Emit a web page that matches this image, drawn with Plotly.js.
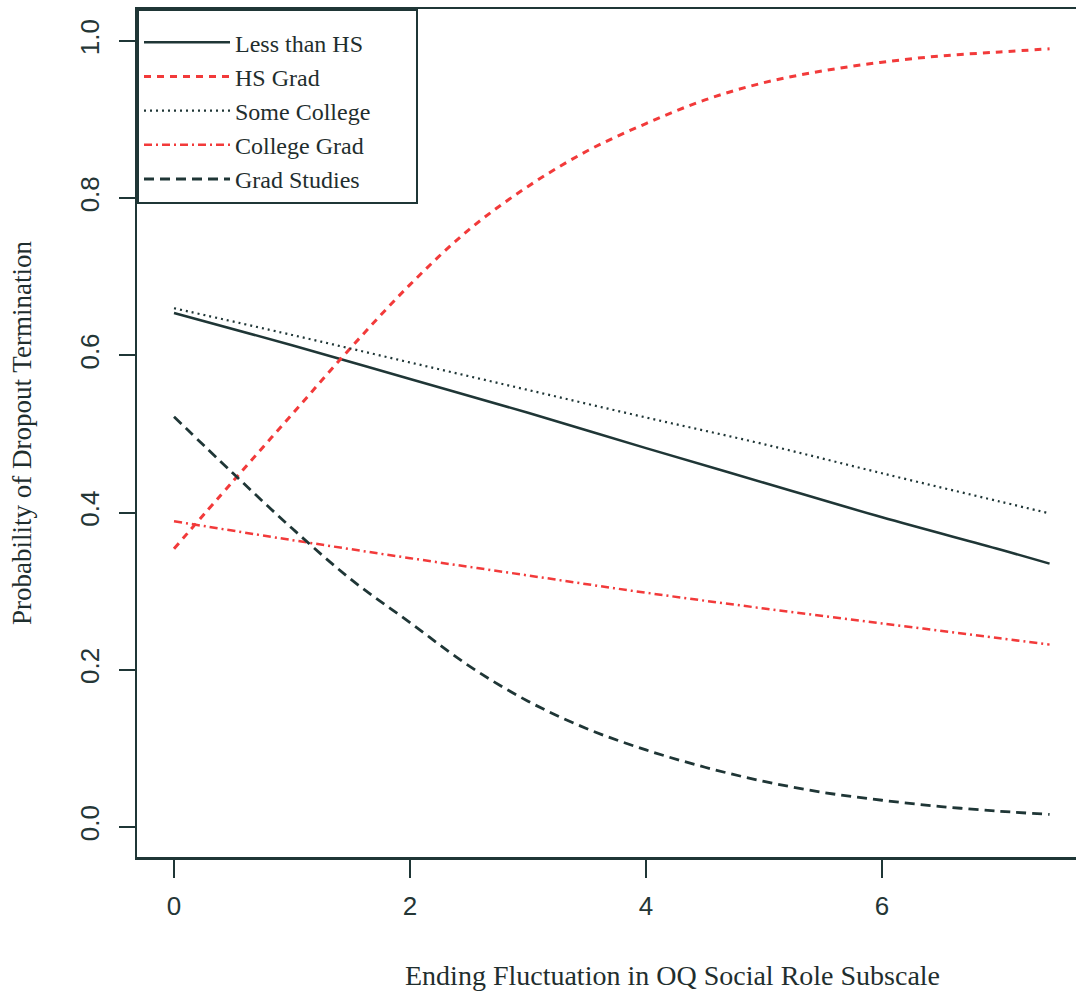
<!DOCTYPE html>
<html>
<head>
<meta charset="utf-8">
<script src="https://cdn.plot.ly/plotly-3.0.1.min.js"></script>
<style>html,body{margin:0;padding:0;background:#fff;}#chart{width:1076px;height:991px;}</style>
</head>
<body>
<div id="chart"></div>
<script>
// Data
const xLessHS = [0, 1, 2, 3, 4, 5, 6, 7, 7.42];
const yLessHS = [0.654, 0.613, 0.570, 0.527, 0.482, 0.438, 0.394, 0.353, 0.335];

const xHSGrad = [0, 0.5, 1, 1.5, 2, 2.5, 3, 3.5, 4, 4.5, 5, 5.5, 6, 6.5, 7, 7.42];
const yHSGrad = [0.354, 0.44, 0.525, 0.61, 0.69, 0.76, 0.815, 0.86, 0.895, 0.925, 0.947, 0.962, 0.973, 0.981, 0.986, 0.990];

const xSomeCollege = [0, 1, 2, 3, 4, 5, 6, 7, 7.42];
const ySomeCollege = [0.660, 0.626, 0.591, 0.556, 0.521, 0.487, 0.450, 0.414, 0.399];

const xCollegeGrad = [0, 1, 2, 3, 4, 5, 6, 7, 7.42];
const yCollegeGrad = [0.389, 0.365, 0.342, 0.320, 0.298, 0.278, 0.259, 0.240, 0.232];

const xGradStudies = [0, 0.5, 1, 1.5, 2, 2.5, 3, 3.5, 4, 4.5, 5, 5.5, 6, 6.5, 7, 7.42];
const yGradStudies = [0.522, 0.45, 0.38, 0.315, 0.26, 0.205, 0.16, 0.125, 0.098, 0.076, 0.058, 0.044, 0.034, 0.026, 0.020, 0.016];

const seriesNames = ["Less than HS", "HS Grad", "Some College", "College Grad", "Grad Studies"];
const xTicks = [0, 2, 4, 6];
const xTickLabels = ["0", "2", "4", "6"];
const yTicks = [0, 0.2, 0.4, 0.6, 0.8, 1.0];
const yTickLabels = ["0.0", "0.2", "0.4", "0.6", "0.8", "1.0"];

const DARK = "#1f3636";
const RED = "#f23a3a";
const SERIF = "Liberation Serif, Times New Roman, serif";
const SANS = "Liberation Sans, Arial, sans-serif";

const traces = [
  {x: xLessHS, y: yLessHS, name: seriesNames[0], line: {color: DARK, width: 2.5, dash: "solid", shape: "spline"}},
  {x: xHSGrad, y: yHSGrad, name: seriesNames[1], line: {color: RED, width: 3, dash: "7px,6px", shape: "spline"}},
  {x: xSomeCollege, y: ySomeCollege, name: seriesNames[2], line: {color: DARK, width: 2.2, dash: "2px,4px", shape: "spline"}},
  {x: xCollegeGrad, y: yCollegeGrad, name: seriesNames[3], line: {color: RED, width: 2.5, dash: "8px,4px,2px,4px", shape: "spline"}},
  {x: xGradStudies, y: yGradStudies, name: seriesNames[4], line: {color: DARK, width: 2.8, dash: "10px,6px", shape: "spline"}}
].map(t => Object.assign({type: "scatter", mode: "lines", hoverinfo: "skip"}, t));

// blank legend title used only as padding (top space and box width)
const legendPad = "&nbsp;".repeat(156);

const layout = {
  width: 1076,
  height: 991,
  margin: {l: 137, r: 0, t: 9, b: 134, pad: 0},
  paper_bgcolor: "#ffffff",
  plot_bgcolor: "#ffffff",
  showlegend: true,
  legend: {
    x: 0, y: 1, xanchor: "left", yanchor: "top",
    bgcolor: "#ffffff",
    bordercolor: DARK,
    borderwidth: 2,
    font: {family: SERIF, size: 24, color: "#1f2e2e"},
    title: {text: legendPad, font: {family: SERIF, size: 7}},
    itemwidth: 86,
    tracegroupgap: 0
  },
  xaxis: {
    range: [-0.3136, 7.644],
    tickmode: "array",
    tickvals: xTicks,
    ticktext: xTickLabels,
    ticks: "outside",
    ticklen: 18,
    tickwidth: 2,
    tickcolor: DARK,
    showline: true,
    linecolor: DARK,
    linewidth: 2.5,
    mirror: true,
    showgrid: false,
    zeroline: false,
    tickfont: {family: SANS, size: 26, color: "#243636"},
    ticklabelstandoff: 6
  },
  yaxis: {
    range: [-0.0382, 1.0407],
    tickmode: "array",
    tickvals: yTicks,
    ticktext: yTickLabels,
    ticks: "outside",
    ticklen: 16,
    tickwidth: 2,
    tickcolor: DARK,
    showline: true,
    linecolor: DARK,
    linewidth: 2.5,
    mirror: false,
    showgrid: false,
    zeroline: false,
    tickangle: -90,
    ticklabelstandoff: 9,
    tickfont: {family: SANS, size: 26, color: "#243636"},
    title: {
      text: "Probability of Dropout Termination",
      standoff: 36,
      font: {family: SERIF, size: 27, color: "#1f2e2e"}
    }
  },
  annotations: [{
    text: "Ending Fluctuation in OQ Social Role Subscale",
    xref: "paper", yref: "paper",
    x: 0.5698, y: 0,
    xanchor: "center", yanchor: "middle",
    yshift: -118,
    showarrow: false,
    font: {family: SERIF, size: 28, color: "#1f2e2e"}
  }]
};

Plotly.newPlot("chart", traces, layout, {displayModeBar: false, staticPlot: true});
</script>
</body>
</html>
